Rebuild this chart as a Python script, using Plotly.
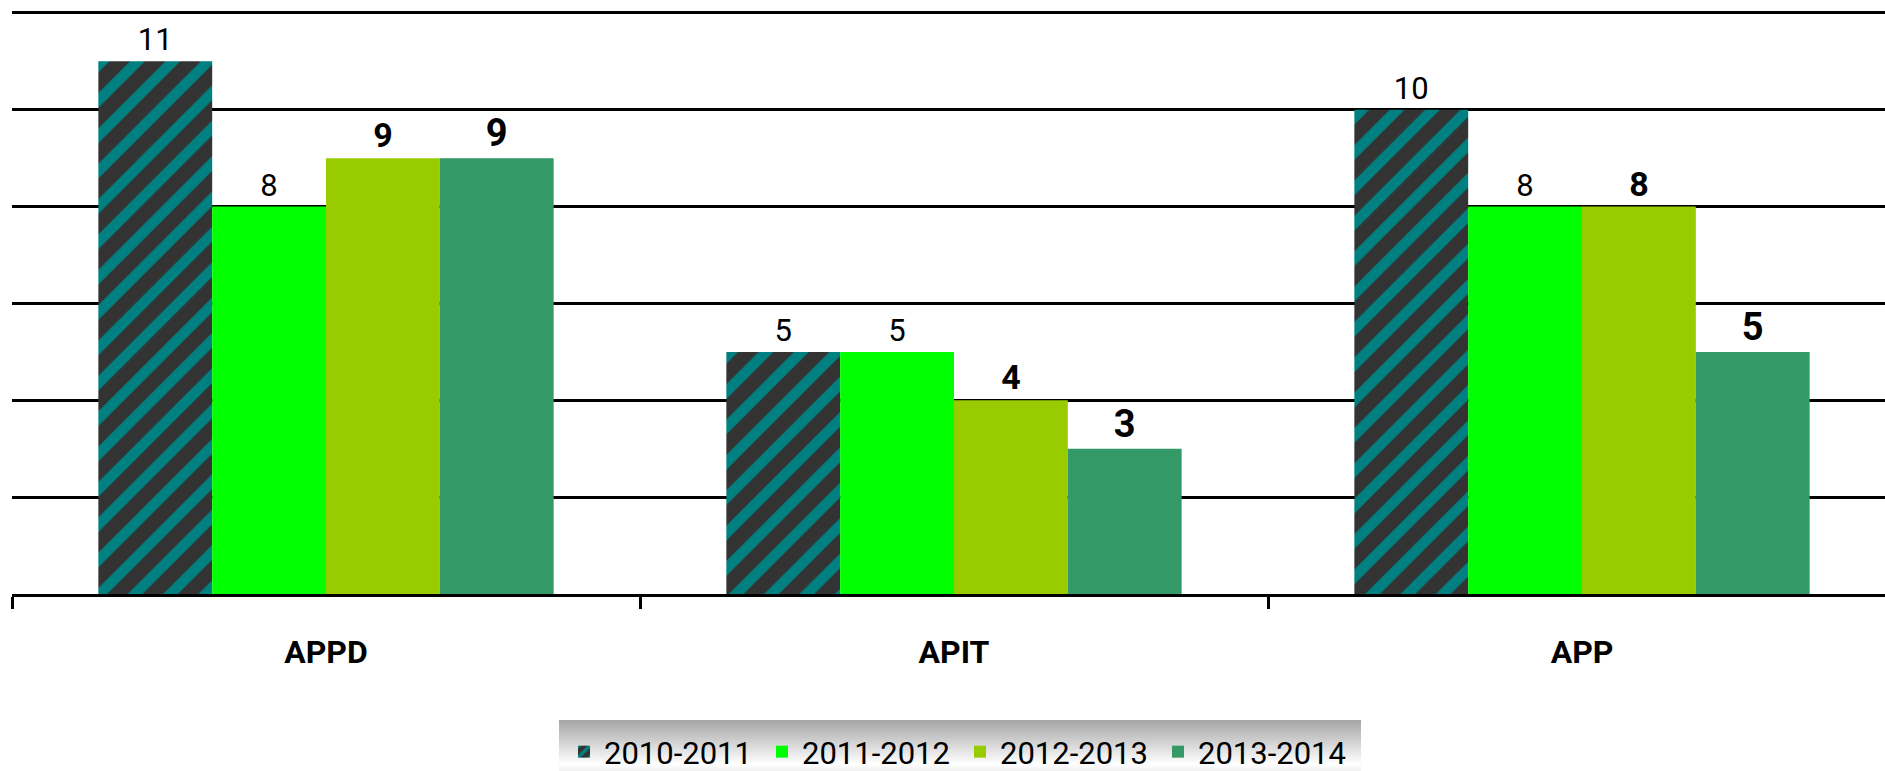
import base64
import plotly.graph_objects as go

categories = ["APPD", "APIT", "APP"]
series_names = ["2010-2011", "2011-2012", "2012-2013", "2013-2014"]
values_2010_2011 = [11, 5, 10]
values_2011_2012 = [8, 5, 8]
values_2012_2013 = [9, 4, 8]
values_2013_2014 = [9, 3, 5]

series_values = [values_2010_2011, values_2011_2012, values_2012_2013, values_2013_2014]
colors = ["#333333", "#00FF00", "#99CC00", "#339966"]
FONT = "Roboto, Liberation Sans Narrow, Arial Narrow, sans-serif"
label_fonts = [
    dict(family=FONT, size=31, color="black"),
    dict(family=FONT, size=31, color="black"),
    dict(family=FONT, size=34, color="black", weight="bold"),
    dict(family=FONT, size=38, color="black", weight="bold"),
]

W, H = 1885, 771
ML, MR, MT, MB = 12, 0, 10, 177
PW, PH = W - ML - MR, H - MT - MB

fig = go.Figure()
for i, (name, vals) in enumerate(zip(series_names, series_values)):
    marker = dict(color=colors[i], line=dict(width=0))
    if i == 0:
        marker["pattern"] = dict(shape="/", fgcolor="#008080", bgcolor="#333333",
                                 fillmode="overlay", fgopacity=1, size=25, solidity=0.42)
    fig.add_trace(go.Bar(
        x=categories, y=vals, name=name, marker=marker,
        text=[str(v) for v in vals], textposition="outside",
        textfont=label_fonts[i], cliponaxis=False,
    ))

# gradient legend background (svg data uri)
svg = ('<svg xmlns="http://www.w3.org/2000/svg" width="100" height="100" preserveAspectRatio="none">'
       '<defs><linearGradient id="g" x1="0" y1="0" x2="0" y2="1">'
       '<stop offset="0" stop-color="#a4a4a4"/>'
       '<stop offset="0.55" stop-color="#ffffff"/>'
       '<stop offset="1" stop-color="#b4b4b4"/>'
       '</linearGradient></defs><rect width="100" height="100" fill="url(#g)"/></svg>')
uri = "data:image/svg+xml;base64," + base64.b64encode(svg.encode()).decode()

def px_x(p):
    return (p - ML) / PW

def px_y(p):
    return (H - MB - p) / PH

fig.add_layout_image(dict(
    source=uri, xref="paper", yref="paper",
    x=px_x(559), y=px_y(720), sizex=px_x(1361) - px_x(559), sizey=px_y(720) - px_y(800),
    xanchor="left", yanchor="top", sizing="stretch", layer="above",
))

fig.update_layout(
    width=W, height=H,
    margin=dict(l=ML, r=MR, t=MT, b=MB, autoexpand=False),
    paper_bgcolor="white", plot_bgcolor="white",
    barmode="group", bargap=0.275, bargroupgap=0,
    showlegend=True,
    legend=dict(
        orientation="h", x=px_x(960), xanchor="center", y=px_y(725), yanchor="top",
        bgcolor="rgba(0,0,0,0)", borderwidth=0,
        font=dict(family=FONT, size=31, color="black"),
        entrywidth=153, entrywidthmode="pixels", traceorder="normal",
    ),
    xaxis=dict(
        type="category", range=[-0.5, -0.5 + PW / 628.0],
        showline=True, linecolor="black", linewidth=3,
        ticks="outside", tickson="boundaries", ticklen=12, tickwidth=3, tickcolor="black",
        showgrid=False, automargin=False, ticklabelstandoff=28,
        tickfont=dict(family=FONT, size=32, color="black", weight="bold"),
    ),
    yaxis=dict(
        range=[0, 12.06], dtick=2, tick0=0, showticklabels=False,
        showgrid=True, gridcolor="black", gridwidth=3,
        zeroline=False, showline=False, ticks="", automargin=False,
    ),
)

fig.write_html(
    "out.html",
    config={"displayModeBar": False},
    post_script="document.body.style.margin='0';document.body.style.overflow='hidden';",
)
